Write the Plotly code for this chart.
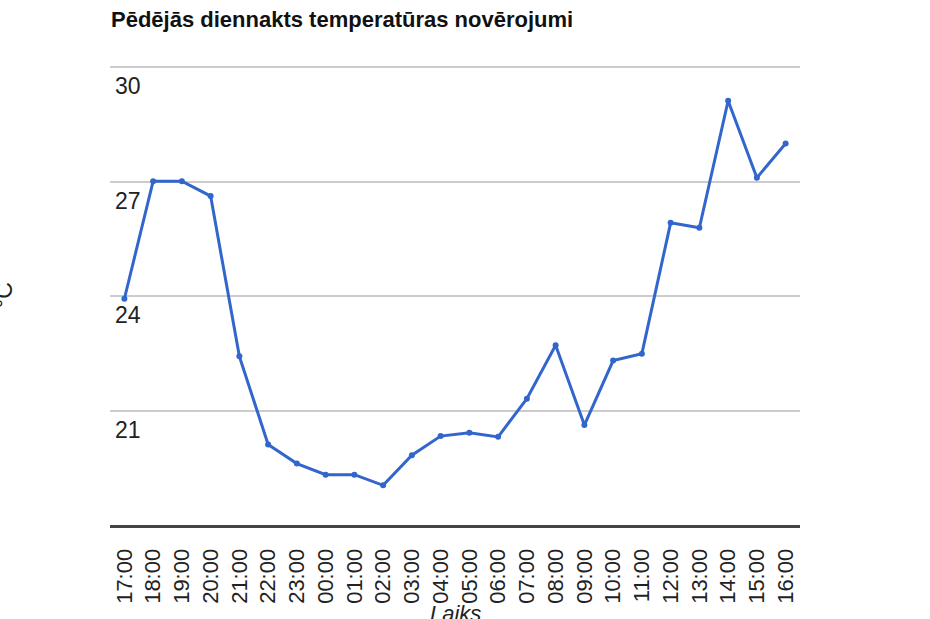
import plotly.graph_objects as go

hours = ["17:00", "18:00", "19:00", "20:00", "21:00", "22:00", "23:00", "00:00",
         "01:00", "02:00", "03:00", "04:00", "05:00", "06:00", "07:00", "08:00",
         "09:00", "10:00", "11:00", "12:00", "13:00", "14:00", "15:00", "16:00"]
temps = [23.93, 27.01, 27.01, 26.62, 22.42, 20.11, 19.61, 19.32,
         19.32, 19.04, 19.83, 20.33, 20.42, 20.31, 21.31, 22.71,
         20.62, 22.31, 22.49, 25.92, 25.79, 29.12, 27.10, 28.0]
y_ticks = [21, 24, 27, 30]
y_range = [18, 30.03]

title_text = "Pēdējās diennakts temperatūras novērojumi"
x_title = "Laiks"
y_title = "°C"

FONT = "Liberation Sans, Arial, sans-serif"

xs = list(range(len(hours)))

fig = go.Figure()
# invisible copy on the label axis so that it gets drawn
fig.add_trace(go.Scatter(
    x=xs, y=temps, mode="lines", yaxis="y2",
    line=dict(color="rgba(0,0,0,0)", width=0),
    showlegend=False, hoverinfo="skip",
))
fig.add_trace(go.Scatter(
    x=xs, y=temps, mode="lines+markers",
    line=dict(color="#3366cc", width=3),
    marker=dict(color="#3366cc", size=6),
    showlegend=False, hoverinfo="skip",
))

fig.update_layout(
    width=930, height=619,
    margin=dict(l=110, r=130, t=66, b=94),
    paper_bgcolor="white", plot_bgcolor="white",
    font=dict(family=FONT, color="#222", size=22),
    title=dict(text="<b>" + title_text + "</b>", x=111 / 930, xanchor="left",
               y=1 - 19 / 619, yanchor="middle",
               font=dict(family=FONT, size=22, color="#111")),
    xaxis=dict(
        range=[-0.5, len(hours) - 0.5],
        tickmode="array", tickvals=xs, ticktext=hours,
        tickangle=-90, showgrid=False, zeroline=False,
        showline=True, linecolor="#444", linewidth=3,
        ticks="", ticklabelstandoff=12, automargin=False,
        tickfont=dict(size=22, color="#222"),
        fixedrange=True,
    ),
    yaxis=dict(
        range=y_range, tickmode="array", tickvals=y_ticks,
        showticklabels=False,
        showgrid=True, gridcolor="#cccccc", gridwidth=2,
        zeroline=False, showline=False, ticks="", automargin=False,
        fixedrange=True,
    ),
    yaxis2=dict(
        overlaying="y", side="right", anchor="free", position=0,
        range=y_range, tickmode="array", tickvals=y_ticks,
        ticklabelshift=19, ticklabelstandoff=4,
        showgrid=False, zeroline=False, showline=False, ticks="",
        automargin=False,
        tickfont=dict(size=23, color="#222"),
        fixedrange=True,
    ),
    annotations=[
        dict(text=y_title, xref="paper", yref="paper",
             x=(4 - 110) / 690, y=(619 - 94 - 295) / 459,
             xanchor="center", yanchor="middle", textangle=-90,
             showarrow=False, font=dict(family=FONT, size=23, color="#222")),
        dict(text="<i>" + x_title + "</i>", xref="paper", yref="paper",
             x=0.5, y=(525 - 613) / 459, xanchor="center", yanchor="middle",
             showarrow=False, font=dict(family=FONT, size=22, color="#222")),
    ],
)

fig.write_html("out.html")
